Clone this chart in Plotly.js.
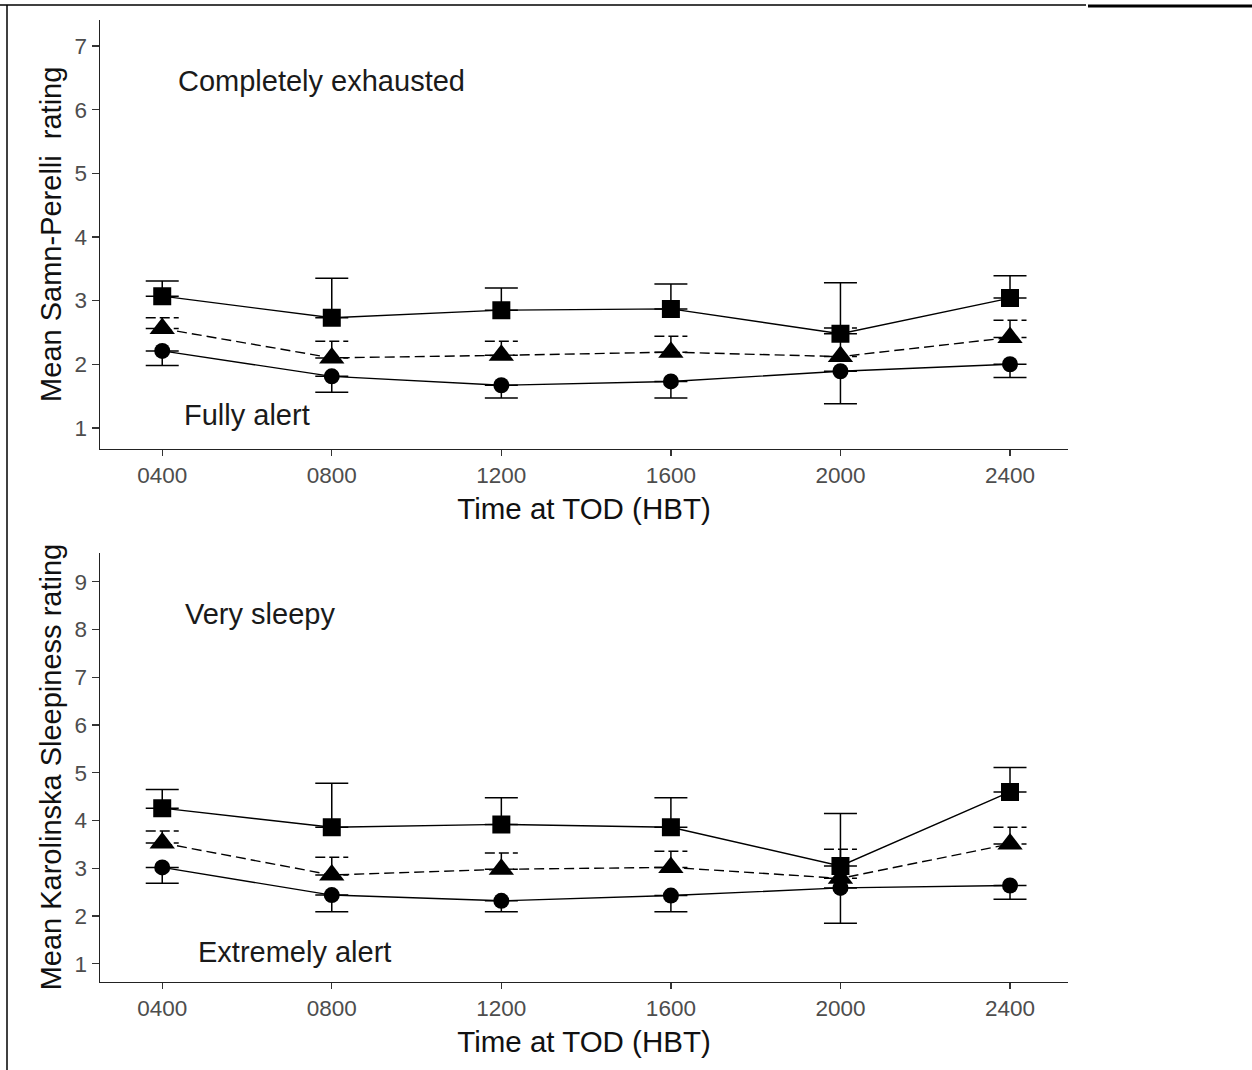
<!DOCTYPE html>
<html>
<head>
<meta charset="utf-8">
<script src="https://cdn.plot.ly/plotly-3.0.1.min.js"></script>
<style>
html,body{margin:0;padding:0;background:#fff;}
#chart{width:1252px;height:1070px;}
</style>
</head>
<body>
<div id="chart"></div>
<script>
// Categories (time at top of descent, HBT)
var times = ['0400', '0800', '1200', '1600', '2000', '2400'];

// Top panel: Samn-Perelli fatigue rating
var spSquare      = [3.07, 2.73, 2.85, 2.87, 2.48, 3.04];
var spSquareErr   = [0.24, 0.62, 0.35, 0.39, 0.80, 0.35];
var spTriangle    = [2.56, 2.10, 2.14, 2.19, 2.12, 2.42];
var spTriangleErr = [0.17, 0.26, 0.22, 0.25, 0.45, 0.27];
var spCircle      = [2.21, 1.81, 1.67, 1.73, 1.89, 2.00];
var spCircleErr   = [0.23, 0.25, 0.20, 0.26, 0.51, 0.21];

// Bottom panel: Karolinska Sleepiness Scale rating
var kssSquare      = [4.26, 3.86, 3.92, 3.86, 3.05, 4.60];
var kssSquareErr   = [0.39, 0.92, 0.56, 0.62, 1.10, 0.51];
var kssTriangle    = [3.53, 2.86, 2.98, 3.02, 2.79, 3.51];
var kssTriangleErr = [0.25, 0.37, 0.34, 0.34, 0.61, 0.35];
var kssCircle      = [3.02, 2.44, 2.32, 2.43, 2.59, 2.64];
var kssCircleErr   = [0.33, 0.35, 0.23, 0.34, 0.74, 0.29];

var spTicks  = [1, 2, 3, 4, 5, 6, 7];
var kssTicks = [1, 2, 3, 4, 5, 6, 7, 8, 9];

var zeros = times.map(function(){ return 0; });

function series(xa, ya, y, err, symbol, size, dash, up) {
  return {
    type: 'scatter', mode: 'lines+markers',
    x: times, y: y, xaxis: xa, yaxis: ya,
    line: {color: '#000', width: 1.4, dash: dash},
    marker: {symbol: symbol, size: size, color: '#000', line: {width: 0}},
    error_y: {
      type: 'data', symmetric: false,
      array: up ? err : zeros,
      arrayminus: up ? zeros : err,
      color: '#000', thickness: 1.5, width: 16.5, visible: true
    },
    showlegend: false, hoverinfo: 'skip'
  };
}

var traces = [
  series('x', 'y', spSquare, spSquareErr, 'square', 18, 'solid', true),
  series('x', 'y', spTriangle, spTriangleErr, 'triangle-up', 22, '10px,5px', true),
  series('x', 'y', spCircle, spCircleErr, 'circle', 16, 'solid', false),
  series('x2', 'y2', kssSquare, kssSquareErr, 'square', 18, 'solid', true),
  series('x2', 'y2', kssTriangle, kssTriangleErr, 'triangle-up', 22, '10px,5px', true),
  series('x2', 'y2', kssCircle, kssCircleErr, 'circle', 16, 'solid', false)
];

var FONT = 'Liberation Sans, Arial, sans-serif';
var W = 1252, H = 1070;
function px(v){ return v / W; }
function py(v){ return 1 - v / H; }

function xAxis(anchor) {
  return {
    anchor: anchor, type: 'category', domain: [px(100), px(1068)],
    range: [-0.367, 5.342], showline: true, linecolor: '#222', linewidth: 1.5,
    ticks: 'outside', ticklen: 6, tickwidth: 1.3, tickcolor: '#333',
    tickfont: {family: FONT, size: 22.5, color: '#4d4d4d'},
    showgrid: false, zeroline: false, automargin: false,
    title: {text: 'Time at TOD (HBT)', font: {family: FONT, size: 29.5, color: '#111'}, standoff: 11}
  };
}
function yAxis(anchor, dom, rng, ticks, title) {
  return {
    anchor: anchor, domain: dom, range: rng, tickmode: 'array', tickvals: ticks,
    showline: true, linecolor: '#222', linewidth: 1.5,
    ticks: 'outside', ticklen: 7, tickwidth: 1.3, tickcolor: '#333',
    tickfont: {family: FONT, size: 22.5, color: '#4d4d4d'},
    showgrid: false, zeroline: false, automargin: false,
    title: {text: title, font: {family: FONT, size: 29, color: '#111'}, standoff: 4}
  };
}

function note(text, x, y) {
  return {text: text, xref: 'paper', yref: 'paper', x: px(x), y: py(y),
          xanchor: 'left', yanchor: 'middle', showarrow: false,
          font: {family: FONT, size: 29, color: '#1a1a1a'}};
}

var layout = {
  width: W, height: H,
  margin: {l: 0, r: 0, t: 0, b: 0},
  paper_bgcolor: '#fff', plot_bgcolor: '#fff',
  showlegend: false,
  xaxis: xAxis('y'),
  yaxis: yAxis('x', [py(448.5), py(20)], [0.676, 7.41], spTicks, 'Mean Samn-Perelli\u00a0 rating'),
  xaxis2: xAxis('y2'),
  yaxis2: yAxis('x2', [py(981.5), py(552.7)], [0.63, 9.61], kssTicks, 'Mean Karolinska Sleepiness rating'),
  annotations: [
    note('Completely exhausted', 176, 81),
    note('Fully alert', 182, 415),
    note('Very sleepy', 183, 614),
    note('Extremely alert', 196, 952)
  ],
  shapes: [
    {type: 'line', xref: 'paper', yref: 'paper', x0: 0, x1: px(1086), y0: py(5), y1: py(5), line: {color: '#000', width: 1.5}},
    {type: 'line', xref: 'paper', yref: 'paper', x0: px(1088), x1: 1, y0: py(6), y1: py(6), line: {color: '#000', width: 3}},
    {type: 'line', xref: 'paper', yref: 'paper', x0: px(7), x1: px(7), y0: py(5), y1: 0, line: {color: '#000', width: 1.5}}
  ]
};

Plotly.newPlot('chart', traces, layout, {staticPlot: true, displayModeBar: false}).then(function(gd){
  // triangle series use dashed error bars
  var groups = gd.querySelectorAll('.scatterlayer g.trace');
  groups.forEach(function(g){
    var d = g.__data__;
    var tr = d && d[0] && d[0].trace;
    if (tr && tr.marker && tr.marker.symbol === 'triangle-up') {
      g.querySelectorAll('.errorbar path').forEach(function(p){
        p.style.strokeDasharray = '10px,4px';
      });
    }
  });
});
</script>
</body>
</html>
